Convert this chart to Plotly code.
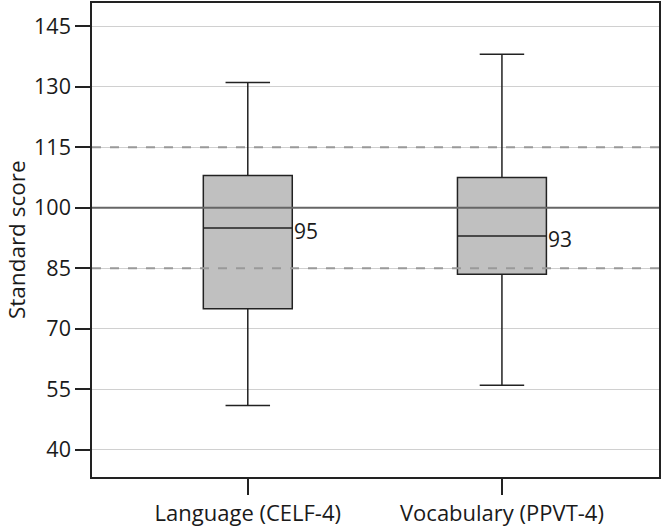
import plotly.graph_objects as go

categories = ["Language (CELF-4)", "Vocabulary (PPVT-4)"]
lower_whisker = [51, 56]
q1_values = [75, 83.5]
median_values = [95, 93]
q3_values = [108, 107.5]
upper_whisker = [131, 138]
y_ticks = [40, 55, 70, 85, 100, 115, 130, 145]
ref_solid = [100]
ref_dashed = [85, 115]
y_title = "Standard score"

FONT = "Open Sans"

fig = go.Figure()
fig.add_trace(go.Box(
    x=[0, 1],
    q1=q1_values, median=median_values, q3=q3_values,
    lowerfence=lower_whisker, upperfence=upper_whisker,
    fillcolor="#c0c0c0",
    line=dict(color="#222222", width=1.5),
    whiskerwidth=0.5,
    width=0.35,
    boxpoints=False,
    hoverinfo="skip",
    showlegend=False,
))

for v in ref_solid:
    fig.add_shape(type="line", xref="paper", x0=0, x1=1, yref="y", y0=v, y1=v,
                  line=dict(color="#666666", width=2))
for v in ref_dashed:
    fig.add_shape(type="line", xref="paper", x0=0, x1=1, yref="y", y0=v, y1=v,
                  line=dict(color="#999999", width=2, dash="dash"))

for i, m in enumerate(median_values):
    fig.add_annotation(x=i + 0.175, y=m, text=str(m), showarrow=False,
                       xanchor="left", yanchor="middle", xshift=0, yshift=-3,
                       font=dict(family=FONT, size=21, color="#1a1a1a"))

fig.add_annotation(xref="paper", yref="paper", x=0, y=0.5, xshift=-76, text=y_title,
                   textangle=-90, showarrow=False, xanchor="center", yanchor="middle",
                   borderpad=0,
                   font=dict(family=FONT, size=22.5, color="#1a1a1a"))

fig.update_layout(
    width=662, height=528,
    margin=dict(l=92, r=1, t=2, b=51),
    paper_bgcolor="white", plot_bgcolor="white",
    font=dict(family=FONT, size=21, color="#1a1a1a"),
)
fig.update_xaxes(
    range=[-0.613, 1.618],
    tickvals=[0, 1], ticktext=categories,
    ticks="outside", ticklen=16, tickwidth=1.5, tickcolor="#222222",
    showline=True, linecolor="#222222", linewidth=1.5, mirror=True,
    showgrid=False, zeroline=False,
    tickfont=dict(family=FONT, size=22, color="#1a1a1a"),
)
fig.update_yaxes(
    range=[33.3, 150.7],
    tickvals=y_ticks,
    ticks="outside", ticklen=15, tickwidth=1.5, tickcolor="#222222",
    showline=True, linecolor="#222222", linewidth=1.5, mirror=True,
    showgrid=True, gridcolor="#d0d0d0", gridwidth=1,
    zeroline=False,
    tickfont=dict(family=FONT, size=21.5, color="#1a1a1a"),
)

fig.write_html("out.html", config={"displayModeBar": False},
               post_script="document.body.style.margin='0';document.body.style.padding='0';")
